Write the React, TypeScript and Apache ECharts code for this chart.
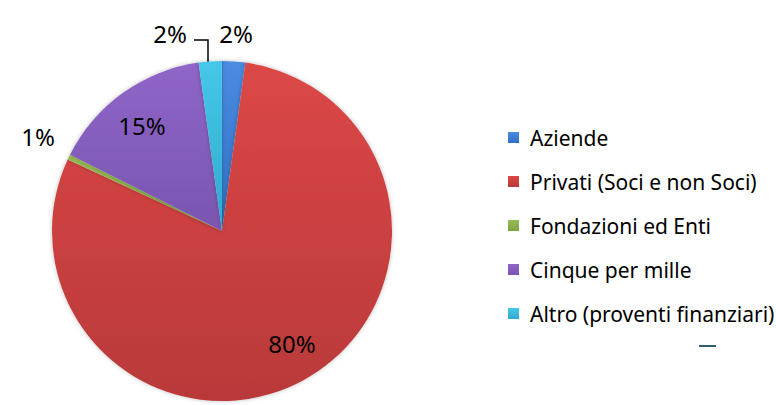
import React, { useEffect, useRef } from "react";
import * as echarts from "echarts";

const categories = [
  "Aziende",
  "Privati (Soci e non Soci)",
  "Fondazioni ed Enti",
  "Cinque per mille",
  "Altro (proventi finanziari)",
];
const values = [2.2, 79.7, 0.5, 15.4, 2.2];
const colorsTop = ["#4a8ce0", "#dc4747", "#97bb55", "#8f66c8", "#45c8e8"];
const colorsBottom = ["#3070c4", "#b93939", "#7fa444", "#7a55b0", "#30aacc"];

// label centre positions (px) per slice
const labelPos: [number, number][] = [
  [236, 33],
  [292, 343],
  [38, 136],
  [142, 125],
  [170, 33],
];

export default function App() {
  const ref = useRef<HTMLDivElement>(null);
  useEffect(() => {
    if (!ref.current) return;
    const chart = echarts.init(ref.current, undefined, { renderer: "svg" });
    const fontFamily = "'Noto Sans', 'Open Sans', sans-serif";
    chart.setOption({
      animation: false,
      backgroundColor: "#ffffff",
      legend: {
        orient: "vertical",
        left: 503,
        top: 122,
        itemWidth: 11,
        itemHeight: 11,
        itemGap: 23,
        icon: "rect",
        textStyle: {
          fontFamily,
          fontSize: 21,
          color: "#000000",
          padding: [0, 0, 0, 6],
        },
        data: categories,
      },
      graphic: [
        {
          type: "line",
          shape: { x1: 699, y1: 346, x2: 716, y2: 346 },
          style: { stroke: "#2f5f6f", lineWidth: 2 },
        },
      ],
      series: [
        {
          type: "pie",
          center: [222, 231],
          radius: 170,
          startAngle: 90,
          clockwise: true,
          avoidLabelOverlap: false,
          itemStyle: {
            borderWidth: 0,
            shadowBlur: 4,
            shadowColor: "rgba(0,0,0,0.25)",
          },
          label: {
            show: true,
            position: "outside",
            fontFamily,
            fontSize: 24,
            color: "#000000",
            formatter: (p: any) => Math.round(p.percent) + "%",
          },
          labelLine: { show: false },
          labelLayout: (params: any) => {
            const [x, y] = labelPos[params.dataIndex];
            const res: any = { x, y, align: "center", verticalAlign: "middle" };
            if (params.dataIndex === 4) {
              res.labelLinePoints = [
                [208, 62],
                [208, 40],
                [194, 40],
              ];
            }
            return res;
          },
          data: categories.map((name, i) => ({
            name,
            value: values[i],
            itemStyle: {
              color: new echarts.graphic.LinearGradient(0, 0, 0, 1, [
                { offset: 0, color: colorsTop[i] },
                { offset: 1, color: colorsBottom[i] },
              ]),
            },
            label: i === 1 || i === 3 ? { position: "inside" } : undefined,
            labelLine:
              i === 4
                ? { show: true, lineStyle: { color: "#000000", width: 1.5 } }
                : { show: false },
          })),
        },
      ],
    });
    return () => chart.dispose();
  }, []);
  return (
    <div
      ref={ref}
      style={{ position: "fixed", left: 0, top: 0, width: 776, height: 405 }}
    />
  );
}
